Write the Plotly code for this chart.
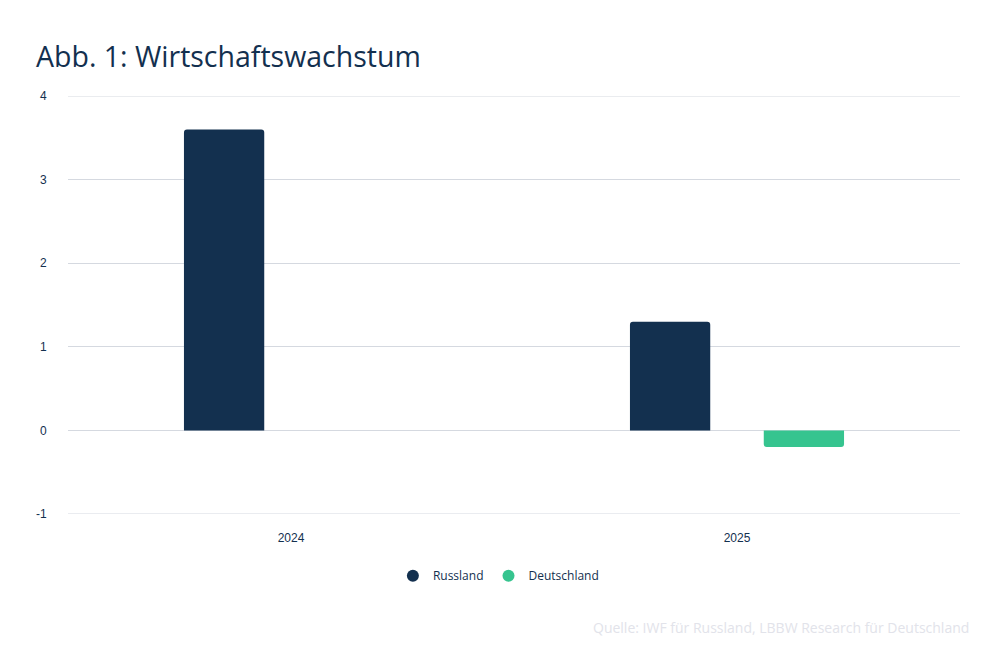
import plotly.graph_objects as go

categories = ["2024", "2025"]
russland = [3.6, 1.3]
deutschland = [0.0, -0.2]
y_ticks = [-1, 0, 1, 2, 3, 4]
y_tick_labels = ["-1", "0", "1", "2", "3", "4"]

navy = "#13304f"
green = "#36c48f"
grid = "#d5d9e0"

fig = go.Figure()
fig.add_trace(go.Bar(x=categories, y=russland, name="Russland", showlegend=False,
                     marker=dict(color=navy, cornerradius=3, line=dict(width=0))))
fig.add_trace(go.Bar(x=categories, y=deutschland, name="Deutschland", showlegend=False,
                     marker=dict(color=green, cornerradius=3, line=dict(width=0))))
# legend entries with circular markers
for name, col in [("Russland", navy), ("Deutschland", green)]:
    fig.add_trace(go.Scatter(x=[None], y=[None], mode="markers", name=name,
                             marker=dict(color=col, size=11, symbol="circle")))

fig.update_layout(
    width=1000, height=661,
    margin=dict(l=68, r=40, t=96, b=147),
    paper_bgcolor="white", plot_bgcolor="white",
    barmode="group", bargap=0.4, bargroupgap=0.4,
    title=dict(text="Abb. 1: Wirtschaftswachstum", x=36/1000, xanchor="left",
               y=1-67/661, yanchor="bottom", yref="container",
               font=dict(family="Open Sans", size=28.5, color=navy)),
    showlegend=True,
    legend=dict(orientation="h", x=0.4825, xanchor="center", y=-0.113, yanchor="top",
                font=dict(family="Open Sans", size=12, color=navy),
                itemsizing="constant", traceorder="normal", itemwidth=30),
    font=dict(family="Liberation Sans", color=navy),
)
fig.update_xaxes(showgrid=False, showline=False, zeroline=False,
                 ticks="outside", ticklen=13, tickcolor="rgba(0,0,0,0)",
                 tickfont=dict(family="Liberation Sans", size=12, color=navy))
fig.update_yaxes(range=[-1, 4], tickvals=y_ticks, ticktext=y_tick_labels,
                 showgrid=True, gridcolor=grid,
                 gridwidth=1, zeroline=True, zerolinecolor=grid, zerolinewidth=1,
                 showline=False, ticks="outside", ticklen=18, tickcolor="rgba(0,0,0,0)",
                 tickfont=dict(family="Liberation Sans", size=12, color=navy))

# gridlines at the range edges (plotly omits those)
for v in (y_ticks[0], y_ticks[-1]):
    fig.add_shape(type="line", xref="paper", x0=0, x1=1, yref="y", y0=v, y1=v,
                  line=dict(color=grid, width=1), layer="below")

fig.add_annotation(text="Quelle: IWF für Russland, LBBW Research für Deutschland",
                   xref="paper", yref="paper", x=1.012, y=-(627-514)/418, xanchor="right",
                   yanchor="middle", showarrow=False,
                   font=dict(family="Open Sans", size=14, color="#e2e3ea"))

fig.write_html("out.html")
